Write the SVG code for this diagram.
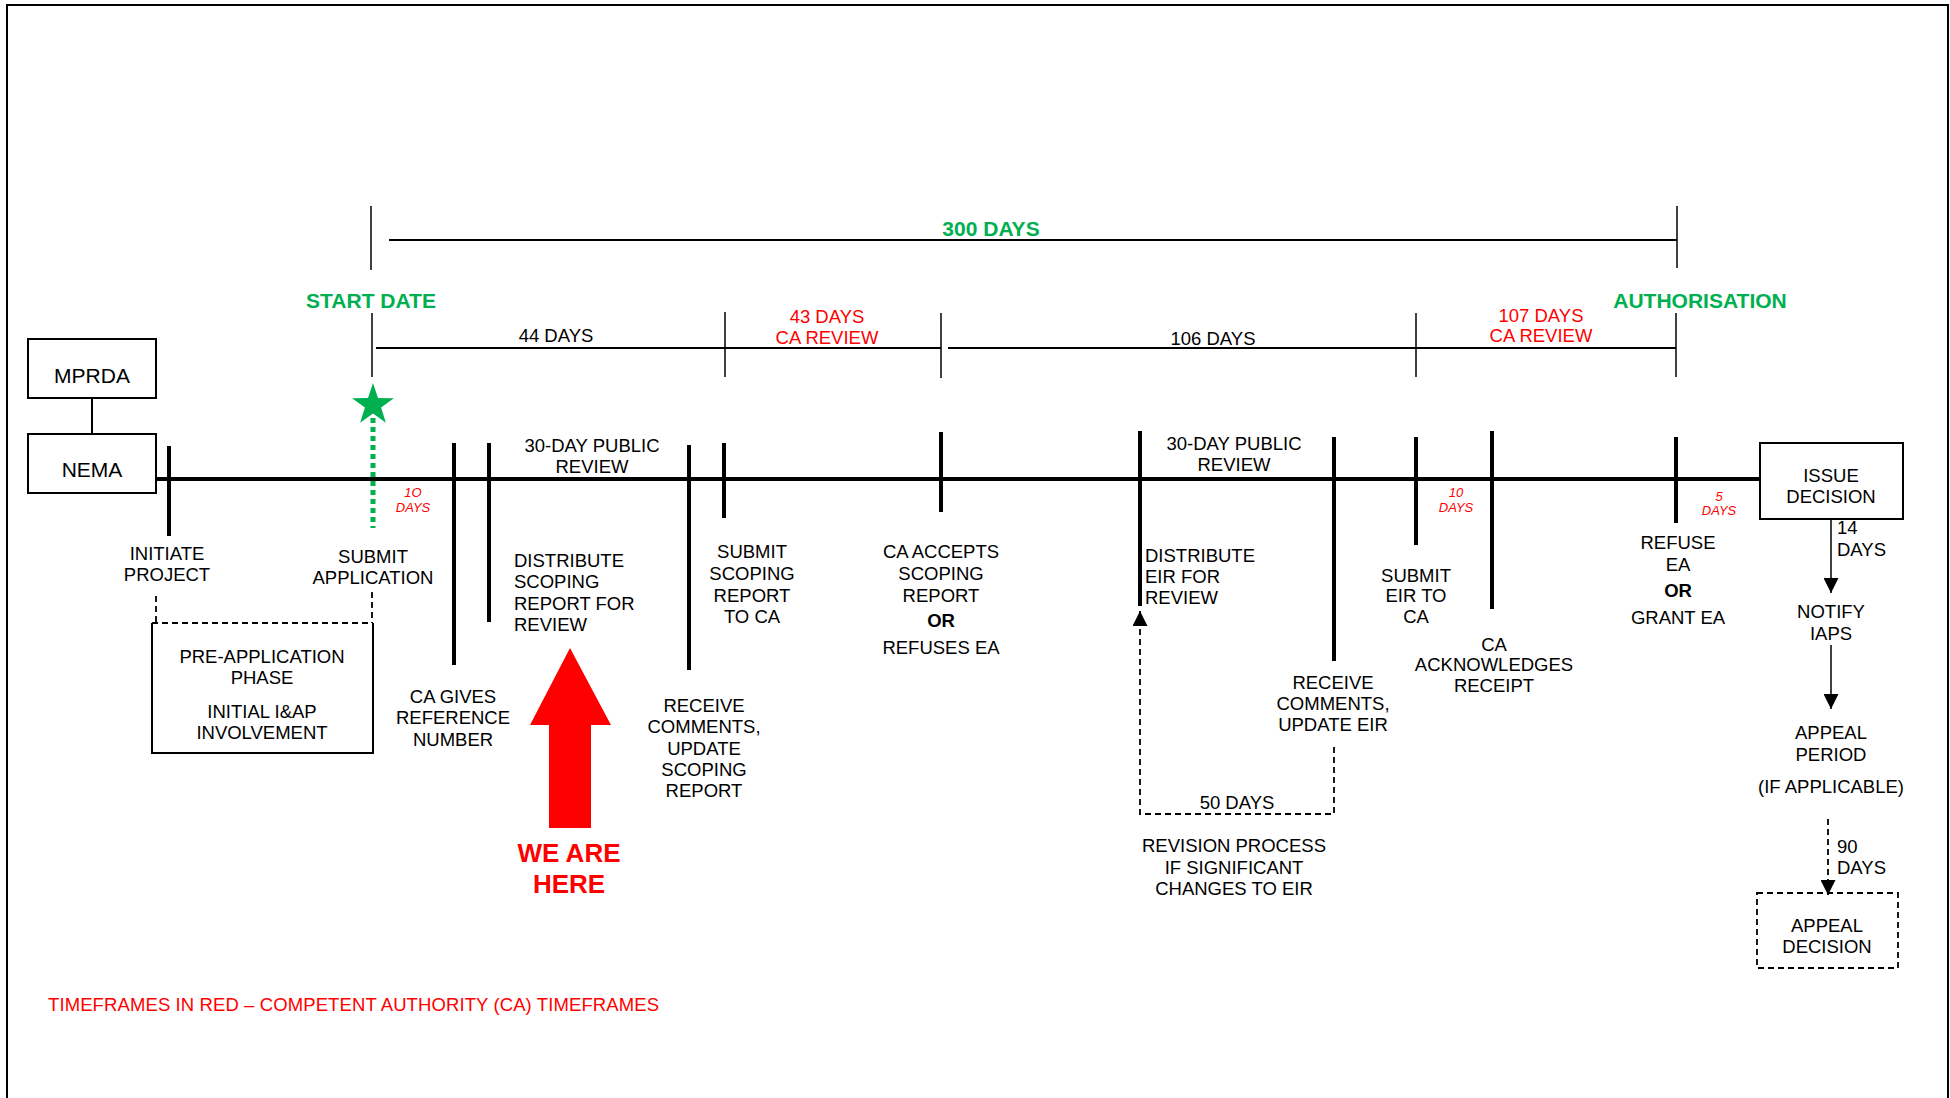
<svg xmlns="http://www.w3.org/2000/svg" width="1950" height="1098" viewBox="0 0 1950 1098">
<style>
text{font-family:"Liberation Sans",Arial,sans-serif;font-size:18.5px;fill:#000}
.c{text-anchor:middle}
.red{fill:#FF0000}
.grn{fill:#00B050;font-weight:bold;font-size:21px}
.sm{font-size:13px;font-style:italic;fill:#FF0000;text-anchor:middle}
.b{font-weight:bold}
.big{font-size:21px}
.box{fill:#fff;stroke:#000;stroke-width:2}
.tk{stroke:#000;stroke-width:4}
.dim{stroke:#000;stroke-width:2}
.dt{stroke:#000;stroke-width:1.5}
.dash{stroke:#000;stroke-width:1.8;stroke-dasharray:6 4;fill:none}
.arr{stroke:#000;stroke-width:1.5;fill:none}
</style>
<defs>
<marker id="ah" viewBox="0 0 10 10" refX="10" refY="5" markerUnits="userSpaceOnUse" markerWidth="15" markerHeight="15" orient="auto"><path d="M0,0 L10,5 L0,10 z" fill="#000"/></marker>
</defs>
<rect width="1950" height="1098" fill="#fff"/>
<path d="M7,1098 V5 H1948 V1098" fill="none" stroke="#000" stroke-width="2"/>

<g id="connectors">
<line x1="156" y1="479" x2="1760" y2="479" class="tk"/>
<line x1="92" y1="398" x2="92" y2="434" class="dim"/>
<line x1="389" y1="240" x2="1677" y2="240" class="dim"/>
<line x1="371" y1="206" x2="371" y2="270" class="dt"/>
<line x1="1677" y1="206" x2="1677" y2="268" class="dt"/>
<line x1="376" y1="348" x2="941" y2="348" class="dim"/>
<line x1="948" y1="348" x2="1676" y2="348" class="dim"/>
<line x1="372" y1="313" x2="372" y2="377" class="dt"/>
<line x1="725" y1="312" x2="725" y2="377" class="dt"/>
<line x1="941" y1="313" x2="941" y2="378" class="dt"/>
<line x1="1416" y1="313" x2="1416" y2="377" class="dt"/>
<line x1="1676" y1="313" x2="1676" y2="377" class="dt"/>
<line x1="373" y1="418" x2="373" y2="528" stroke="#00B050" stroke-width="5" stroke-dasharray="5 4"/>
<path d="M156,596 V623 M372,592 V623 M152,623 H373" class="dash"/>
<path d="M1334,747 V814 H1140 V611" class="dash" marker-end="url(#ah)"/>
<line x1="1831" y1="519" x2="1831" y2="593" class="arr" marker-end="url(#ah)"/>
<line x1="1831" y1="645" x2="1831" y2="709" class="arr" marker-end="url(#ah)"/>
<line x1="1828" y1="819" x2="1828" y2="895" class="dash" marker-end="url(#ah)"/>
</g>

<g id="n-mprda"><rect x="28" y="339" width="128" height="59" class="box"/><text x="92" y="383" class="c big">MPRDA</text></g>
<g id="n-nema"><rect x="28" y="434" width="128" height="59" class="box"/><text x="92" y="477" class="c big">NEMA</text></g>

<g id="n-300"><text x="991" y="236" class="c grn">300 DAYS</text></g>
<g id="n-start"><text x="371" y="308" class="c grn">START DATE</text>
<polygon points="373,383 378,398.1 393.9,398.2 381.1,407.6 385.9,422.8 373,413.5 360.1,422.8 364.9,407.6 352.1,398.2 368,398.1" fill="#00B050"/></g>
<g id="n-auth"><text x="1700" y="308" class="c grn">AUTHORISATION</text></g>
<g id="n-44"><text x="556" y="342" class="c">44 DAYS</text></g>
<g id="n-43"><text class="c red"><tspan x="827" y="323">43 DAYS</tspan><tspan x="827" y="344">CA REVIEW</tspan></text></g>
<g id="n-106"><text x="1213" y="345" class="c">106 DAYS</text></g>
<g id="n-107"><text class="c red"><tspan x="1541" y="322">107 DAYS</tspan><tspan x="1541" y="342">CA REVIEW</tspan></text></g>

<g id="n-initiate"><line x1="169" y1="446" x2="169" y2="536" class="tk"/>
<text class="c"><tspan x="167" y="560">INITIATE</tspan><tspan x="167" y="581">PROJECT</tspan></text></g>
<g id="n-submit-app"><text class="c"><tspan x="373" y="563">SUBMIT</tspan><tspan x="373" y="584">APPLICATION</tspan></text>
<text class="sm"><tspan x="413" y="497">1O</tspan><tspan x="413" y="512">DAYS</tspan></text></g>
<g id="n-preapp"><path d="M152,623 V753 H373 V623" fill="none" stroke="#000" stroke-width="2"/>
<text class="c"><tspan x="262" y="663">PRE-APPLICATION</tspan><tspan x="262" y="684">PHASE</tspan><tspan x="262" y="718">INITIAL I&amp;AP</tspan><tspan x="262" y="739">INVOLVEMENT</tspan></text></g>
<g id="n-ref"><line x1="454" y1="443" x2="454" y2="665" class="tk"/>
<text class="c"><tspan x="453" y="703">CA GIVES</tspan><tspan x="453" y="724">REFERENCE</tspan><tspan x="453" y="746">NUMBER</tspan></text></g>
<g id="n-dist-scoping"><line x1="489" y1="443" x2="489" y2="622" class="tk"/>
<text><tspan x="514" y="567">DISTRIBUTE</tspan><tspan x="514" y="588">SCOPING</tspan><tspan x="514" y="610">REPORT FOR</tspan><tspan x="514" y="631">REVIEW</tspan></text>
<text class="c"><tspan x="592" y="452">30-DAY PUBLIC</tspan><tspan x="592" y="473">REVIEW</tspan></text></g>
<g id="n-here"><polygon points="570,648 611,725 591,725 591,828 549,828 549,725 530,725" fill="#FF0000"/>
<text class="c red b" style="font-size:26px"><tspan x="569" y="862">WE ARE</tspan><tspan x="569" y="893">HERE</tspan></text></g>
<g id="n-recv-scoping"><line x1="689" y1="445" x2="689" y2="670" class="tk"/>
<text class="c"><tspan x="704" y="712">RECEIVE</tspan><tspan x="704" y="733">COMMENTS,</tspan><tspan x="704" y="755">UPDATE</tspan><tspan x="704" y="776">SCOPING</tspan><tspan x="704" y="797">REPORT</tspan></text></g>
<g id="n-submit-scoping"><line x1="724" y1="443" x2="724" y2="518" class="tk"/>
<text class="c"><tspan x="752" y="558">SUBMIT</tspan><tspan x="752" y="580">SCOPING</tspan><tspan x="752" y="602">REPORT</tspan><tspan x="752" y="623">TO CA</tspan></text></g>
<g id="n-accepts"><line x1="941" y1="432" x2="941" y2="512" class="tk"/>
<text class="c"><tspan x="941" y="558">CA ACCEPTS</tspan><tspan x="941" y="580">SCOPING</tspan><tspan x="941" y="602">REPORT</tspan><tspan x="941" y="627" class="b">OR</tspan><tspan x="941" y="654">REFUSES EA</tspan></text></g>
<g id="n-dist-eir"><line x1="1140" y1="431" x2="1140" y2="606" class="tk"/>
<text><tspan x="1145" y="562">DISTRIBUTE</tspan><tspan x="1145" y="583">EIR FOR</tspan><tspan x="1145" y="604">REVIEW</tspan></text>
<text class="c"><tspan x="1234" y="450">30-DAY PUBLIC</tspan><tspan x="1234" y="471">REVIEW</tspan></text></g>
<g id="n-recv-eir"><line x1="1334" y1="437" x2="1334" y2="661" class="tk"/>
<text class="c"><tspan x="1333" y="689">RECEIVE</tspan><tspan x="1333" y="710">COMMENTS,</tspan><tspan x="1333" y="731">UPDATE EIR</tspan></text></g>
<g id="n-revision"><text x="1237" y="809" class="c">50 DAYS</text>
<text class="c"><tspan x="1234" y="852">REVISION PROCESS</tspan><tspan x="1234" y="874">IF SIGNIFICANT</tspan><tspan x="1234" y="895">CHANGES TO EIR</tspan></text></g>
<g id="n-submit-eir"><line x1="1416" y1="437" x2="1416" y2="545" class="tk"/>
<text class="c"><tspan x="1416" y="582">SUBMIT</tspan><tspan x="1416" y="602">EIR TO</tspan><tspan x="1416" y="623">CA</tspan></text>
<text class="sm"><tspan x="1456" y="497">10</tspan><tspan x="1456" y="512">DAYS</tspan></text></g>
<g id="n-ack"><line x1="1492" y1="431" x2="1492" y2="609" class="tk"/>
<text class="c"><tspan x="1494" y="651">CA</tspan><tspan x="1494" y="671">ACKNOWLEDGES</tspan><tspan x="1494" y="692">RECEIPT</tspan></text></g>
<g id="n-refuse"><line x1="1676" y1="437" x2="1676" y2="523" class="tk"/>
<text class="c"><tspan x="1678" y="549">REFUSE</tspan><tspan x="1678" y="571">EA</tspan><tspan x="1678" y="597" class="b">OR</tspan><tspan x="1678" y="624">GRANT EA</tspan></text>
<text class="sm"><tspan x="1719" y="501">5</tspan><tspan x="1719" y="515">DAYS</tspan></text></g>
<g id="n-issue"><rect x="1760" y="443" width="143" height="76" class="box"/>
<text class="c"><tspan x="1831" y="482">ISSUE</tspan><tspan x="1831" y="503">DECISION</tspan></text>
<text><tspan x="1837" y="534">14</tspan><tspan x="1837" y="556">DAYS</tspan></text></g>
<g id="n-notify"><text class="c"><tspan x="1831" y="618">NOTIFY</tspan><tspan x="1831" y="640">IAPS</tspan></text></g>
<g id="n-appeal-period"><text class="c"><tspan x="1831" y="739">APPEAL</tspan><tspan x="1831" y="761">PERIOD</tspan><tspan x="1831" y="793">(IF APPLICABLE)</tspan></text>
<text><tspan x="1837" y="853">90</tspan><tspan x="1837" y="874">DAYS</tspan></text></g>
<g id="n-appeal-decision"><rect x="1757" y="893" width="141" height="75" class="dash"/>
<text class="c"><tspan x="1827" y="932">APPEAL</tspan><tspan x="1827" y="953">DECISION</tspan></text></g>
<g id="n-legend"><text x="48" y="1011" class="red" style="font-size:18.5px" textLength="611" lengthAdjust="spacing">TIMEFRAMES IN RED – COMPETENT AUTHORITY (CA) TIMEFRAMES</text></g>
</svg>
